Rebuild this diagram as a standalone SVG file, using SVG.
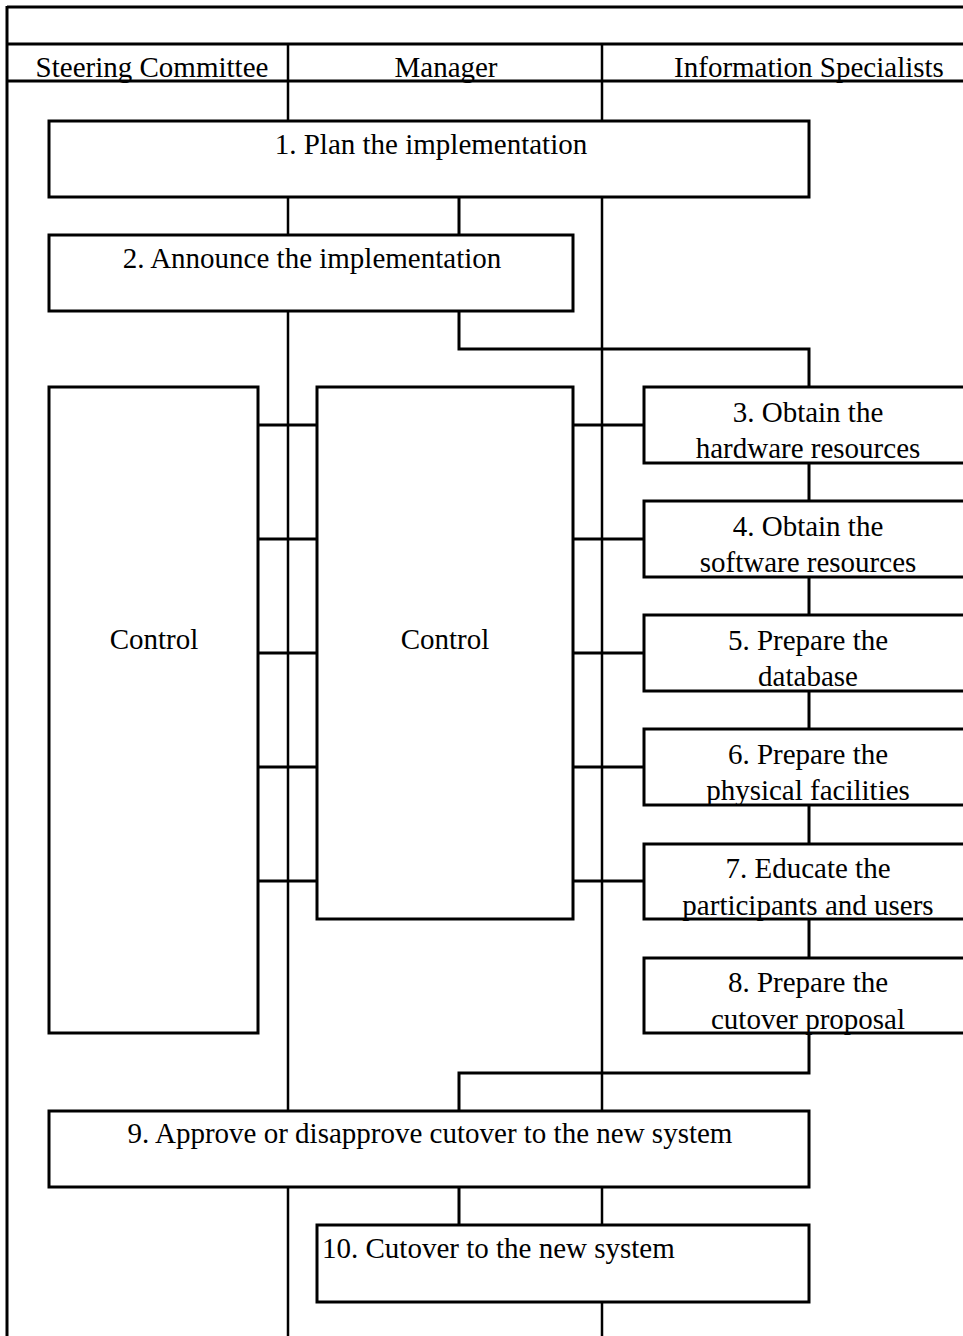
<svg xmlns="http://www.w3.org/2000/svg" width="963" height="1336" viewBox="0 0 963 1336">
<style>
.box{fill:#fff;stroke:#000;stroke-width:3}
.ln{fill:none;stroke:#000;stroke-width:3}
.lane{fill:none;stroke:#000;stroke-width:2.5}
text{font-family:"Liberation Serif","Times New Roman",serif;font-size:29px;fill:#000}
.c{text-anchor:middle}
</style>
<rect width="963" height="1336" fill="#fff"/>
<g id="frame">
<line class="ln" x1="7" y1="7" x2="963" y2="7"/>
<line class="ln" x1="7" y1="6" x2="7" y2="1336"/>
<line class="ln" x1="7" y1="44" x2="963" y2="44"/>
<line class="ln" x1="7" y1="81" x2="963" y2="81"/>
</g>
<g id="connectors">
<path class="lane" d="M288 44V121M288 197V235M288 311V1111M288 1187V1336"/>
<path class="lane" d="M602 44V121M602 197V1111M602 1187V1225M602 1302V1336"/>
<path class="ln" d="M459 197V235M459 311V349H809V387"/>
<path class="ln" d="M809 463V502M809 577V616M809 691V730M809 805V844M809 919V958"/>
<path class="ln" d="M809 1033V1073H459V1111M459 1187V1225"/>
<path class="ln" d="M258 425H317M573 425H644M258 539H317M573 539H644M258 653H317M573 653H644M258 767H317M573 767H644M258 881H317M573 881H644"/>
</g>
<g id="headers">
<text class="c" x="152" y="77">Steering Committee</text>
<text class="c" x="446" y="77">Manager</text>
<text class="c" x="809" y="77">Information Specialists</text>
</g>
<g id="n1"><rect class="box" x="49" y="121" width="760" height="76"/><text class="c" x="431" y="154">1. Plan the implementation</text></g>
<g id="n2"><rect class="box" x="49" y="235" width="524" height="76"/><text class="c" x="312" y="268">2. Announce the implementation</text></g>
<g id="ctrl1"><rect class="box" x="49" y="387" width="209" height="646"/><text class="c" x="154" y="649">Control</text></g>
<g id="ctrl2"><rect class="box" x="317" y="387" width="256" height="532"/><text class="c" x="445" y="649">Control</text></g>
<g id="n3"><rect class="box" x="644" y="387" width="340" height="76"/><text class="c" x="808" y="422">3. Obtain the</text><text class="c" x="808" y="458">hardware resources</text></g>
<g id="n4"><rect class="box" x="644" y="501" width="340" height="76"/><text class="c" x="808" y="536">4. Obtain the</text><text class="c" x="808" y="572">software resources</text></g>
<g id="n5"><rect class="box" x="644" y="615" width="340" height="76"/><text class="c" x="808" y="650">5. Prepare the</text><text class="c" x="808" y="686">database</text></g>
<g id="n6"><rect class="box" x="644" y="729" width="340" height="76"/><text class="c" x="808" y="764">6. Prepare the</text><text class="c" x="808" y="800">physical facilities</text></g>
<g id="n7"><rect class="box" x="644" y="844" width="340" height="75"/><text class="c" x="808" y="878">7. Educate the</text><text class="c" x="808" y="915">participants and users</text></g>
<g id="n8"><rect class="box" x="644" y="958" width="340" height="75"/><text class="c" x="808" y="992">8. Prepare the</text><text class="c" x="808" y="1029">cutover proposal</text></g>
<g id="n9"><rect class="box" x="49" y="1111" width="760" height="76"/><text class="c" x="430" y="1143">9. Approve or disapprove cutover to the new system</text></g>
<g id="n10"><rect class="box" x="317" y="1225" width="492" height="77"/><text x="322" y="1258">10. Cutover to the new system</text></g>
</svg>
